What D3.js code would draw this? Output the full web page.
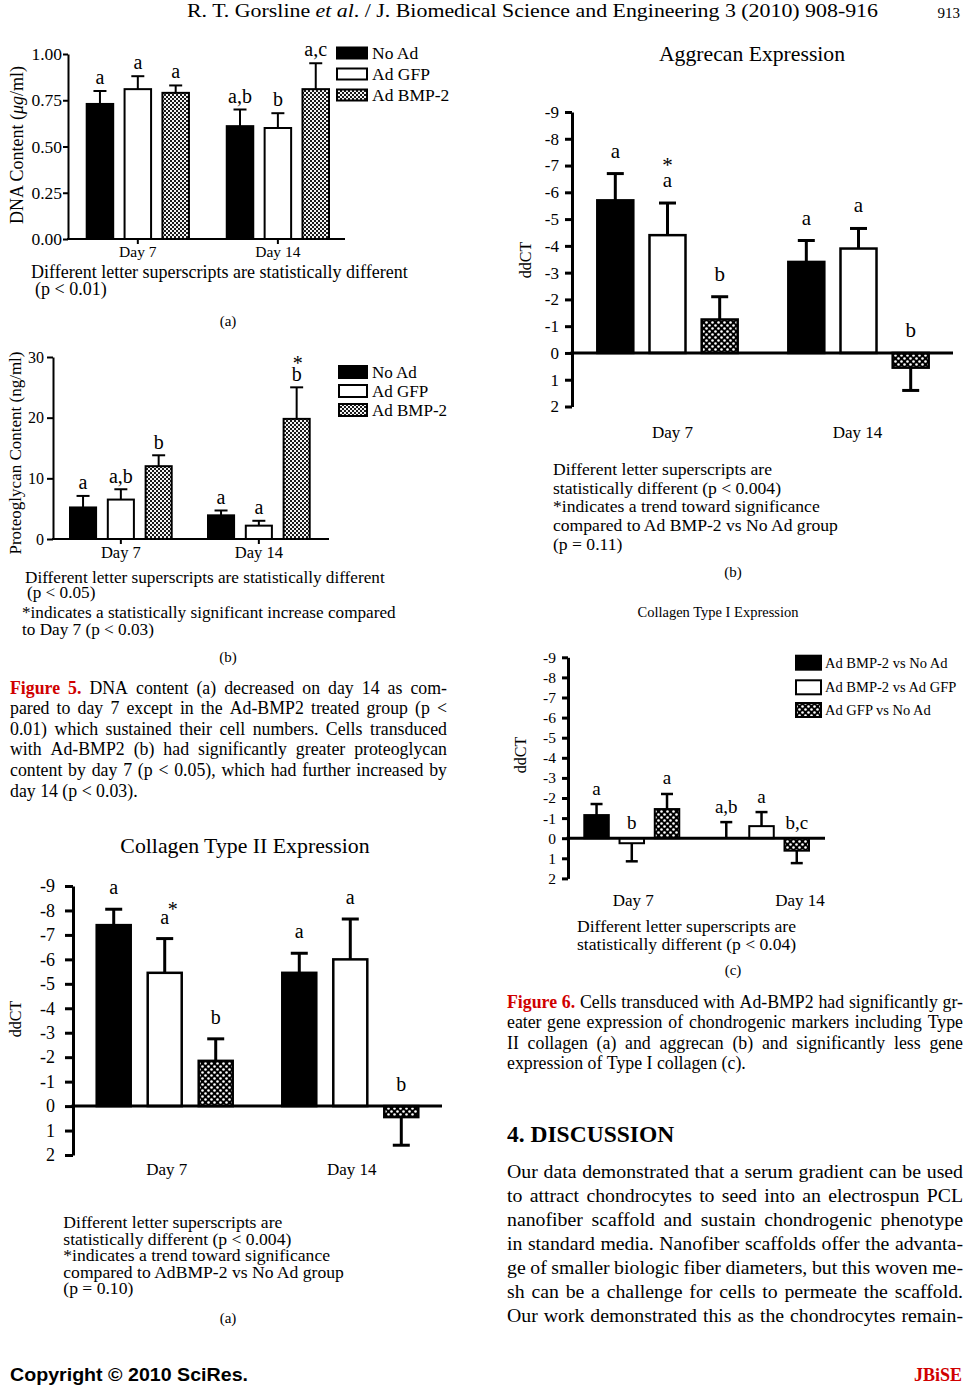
<!DOCTYPE html>
<html><head><meta charset="utf-8">
<script src="https://cdn.jsdelivr.net/npm/d3@7"></script>
<style>body{margin:0;background:#fff}svg{display:block}</style>
</head><body>
<script>
// ================= DATA =================
const days = ["Day 7", "Day 14"];
const treatGroups = ["No Ad", "Ad GFP", "Ad BMP-2"];
const compareGroups = ["Ad BMP-2 vs No Ad", "Ad BMP-2 vs Ad GFP", "Ad GFP vs No Ad"];

// Figure 5(a) DNA content (ug/ml)
const dnaTicks = [0, 0.25, 0.5, 0.75, 1.0];
const dnaMean = [[0.73, 0.81, 0.79], [0.61, 0.60, 0.81]];
const dnaSem = [[0.07, 0.07, 0.04], [0.09, 0.08, 0.14]];
const dnaLetters = [["a", "a", "a"], ["a,b", "b", "a,c"]];

// Figure 5(b) Proteoglycan content (ng/ml)
const pgTicks = [0, 10, 20, 30];
const pgMean = [[5.2, 6.5, 12.0], [3.9, 2.2, 19.8]];
const pgSem = [[1.9, 1.7, 1.8], [0.8, 0.8, 5.2]];
const pgLetters = [["a", "a,b", "b"], ["a", "a", "b"]];
const pgStars = [[0, 0, 0], [0, 0, 1]];

// ddCT axis ticks
const ddctTicks = [-9, -8, -7, -6, -5, -4, -3, -2, -1, 0, 1, 2];

// Figure 6(b) Aggrecan
const aggMean = [[-5.7, -4.4, -1.25], [-3.4, -3.9, 0.55]];
const aggSem = [[1.0, 1.2, 0.85], [0.8, 0.75, 0.85]];
const aggLetters = [["a", "a", "b"], ["a", "a", "b"]];
const aggStars = [[0, 1, 0], [0, 0, 0]];

// Figure 6(c) Collagen type I
const col1Mean = [[-1.15, 0.25, -1.45], [0, -0.6, 0.62]];
const col1Sem = [[0.55, 0.9, 0.75], [0.8, 0.7, 0.62]];
const col1Letters = [["a", "b", "a"], ["a,b", "a", "b,c"]];

// Figure 6(a) Collagen type II
const col2Mean = [[-7.4, -5.45, -1.85], [-5.45, -6.0, 0.45]];
const col2Sem = [[0.65, 1.4, 0.9], [0.8, 1.65, 1.15]];
const col2Letters = [["a", "a", "b"], ["a", "a", "b"]];
const col2Stars = [[0, 1, 0], [0, 0, 0]];

// ================= RENDER =================
const SERIF = '"Liberation Serif","Times New Roman",serif';
const SANS = '"Liberation Sans",Arial,sans-serif';
const svg = d3.select('body').append('svg').attr('width', 965).attr('height', 1386);
svg.append('rect').attr('width', 965).attr('height', 1386).attr('fill', '#fff');

const defs = svg.append('defs');
const pf = defs.append('pattern').attr('id', 'fine').attr('patternUnits', 'userSpaceOnUse').attr('width', 4).attr('height', 4);
pf.append('rect').attr('width', 4).attr('height', 4).attr('fill', '#1a1a1a');
pf.append('rect').attr('x', 0).attr('y', 0).attr('width', 2).attr('height', 2).attr('fill', '#f4f4f4');
pf.append('rect').attr('x', 2).attr('y', 2).attr('width', 2).attr('height', 2).attr('fill', '#f4f4f4');
const pc = defs.append('pattern').attr('id', 'coarse').attr('patternUnits', 'userSpaceOnUse').attr('width', 6).attr('height', 6);
pc.append('rect').attr('width', 6).attr('height', 6).attr('fill', '#000');
pc.append('circle').attr('cx', 1.5).attr('cy', 1.5).attr('r', 1.3).attr('fill', '#fff');
pc.append('circle').attr('cx', 4.5).attr('cy', 4.5).attr('r', 1.3).attr('fill', '#fff');

function T(parent, x, y, s, o = {}) {
  const t = parent.append('text').attr('x', x).attr('y', y)
    .attr('font-family', o.family || SERIF).attr('font-size', o.size || 16)
    .attr('text-anchor', o.anchor || 'start').attr('fill', o.fill || '#000');
  if (o.weight) t.attr('font-weight', o.weight);
  if (o.italic) t.attr('font-style', 'italic');
  t.text(s);
  if (o.width) t.attr('textLength', o.width).attr('lengthAdjust', o.adjust || 'spacingAndGlyphs');
  return t;
}

// word-justified line: words = [{t, bold, fill}]
function justLine(x, y, width, words, size, justify) {
  const text = svg.append('text').attr('y', y).attr('font-family', SERIF).attr('font-size', size);
  const spans = words.map(w => {
    const s = text.append('tspan').text(w.t);
    if (w.bold) s.attr('font-weight', 'bold');
    s.attr('fill', w.fill || '#000');
    return s;
  });
  const widths = spans.map(s => s.node().getComputedTextLength());
  const sum = d3.sum(widths);
  const gap = (justify && words.length > 1) ? (width - sum) / (words.length - 1) : size * 0.25;
  let cx = x;
  spans.forEach((s, i) => { s.attr('x', cx); cx += widths[i] + gap; });
}
function caption(x, y0, lh, width, lines, size) {
  lines.forEach((ln, i) => {
    const words = ln.split(' ').map(t => ({t}));
    if (i === 0) {
      words[0].bold = true; words[0].fill = '#d00000';
      words[1].bold = true; words[1].fill = '#d00000';
    }
    justLine(x, y0 + i * lh, width, words, size, i < lines.length - 1);
  });
}

function drawChart(c) {
  const g = svg.append('g');
  const x0 = d3.scaleBand().domain(days).range(c.xr).paddingInner(c.pOuter).paddingOuter(0);
  const x1 = d3.scaleBand().domain(c.series).range([0, x0.bandwidth()]).paddingInner(c.pInner).paddingOuter(0);
  const y = d3.scaleLinear().domain(c.yd).range(c.yr);
  const base = c.ddct ? 0 : c.yd[0];
  const fills = ['#000', '#fff', `url(#${c.pattern})`];
  const rows = [];
  days.forEach((d, i) => c.series.forEach((s, j) => {
    const v = c.mean[i][j], e = c.sem[i][j];
    const dir = c.ddct ? (v > 0 ? 1 : -1) : 1;
    rows.push({d, s, j, v, tip: v + dir * e, lab: c.letters[i][j],
      star: c.stars ? c.stars[i][j] : 0, x: x0(d) + x1(s), cx: x0(d) + x1(s) + x1.bandwidth() / 2});
  }));

  g.append('g').selectAll('rect').data(rows).join('rect')
    .attr('x', r => r.x).attr('width', x1.bandwidth())
    .attr('y', r => Math.min(y(r.v), y(base)))
    .attr('height', r => Math.abs(y(r.v) - y(base)))
    .attr('fill', r => fills[r.j]).attr('stroke', '#000').attr('stroke-width', c.barStroke);

  const eb = g.append('g').attr('stroke', '#000').attr('stroke-width', c.errW);
  eb.selectAll('line.stem').data(rows).join('line').attr('class', 'stem')
    .attr('x1', r => r.cx).attr('x2', r => r.cx)
    .attr('y1', r => y(r.v)).attr('y2', r => y(r.tip));
  eb.selectAll('line.cap').data(rows).join('line').attr('class', 'cap')
    .attr('x1', r => r.cx - c.capW / 2).attr('x2', r => r.cx + c.capW / 2)
    .attr('y1', r => y(r.tip)).attr('y2', r => y(r.tip));

  // y axis
  const ya = g.append('g').attr('transform', `translate(${c.axisX},0)`)
    .call(d3.axisLeft(y).tickValues(c.ticks).tickFormat(c.fmt)
      .tickSize(c.tickSize).tickSizeOuter(0).tickPadding(c.tickPad));
  ya.attr('font-family', null).attr('font-size', null);
  ya.selectAll('path,line').attr('stroke', '#000').attr('stroke-width', c.axisW);
  ya.selectAll('text').attr('font-family', SERIF).attr('font-size', c.tickFont).attr('fill', '#000');

  // baseline / zero line
  g.append('line').attr('x1', c.axisX - c.axisW / 2).attr('x2', c.xEnd)
    .attr('y1', y(base)).attr('y2', y(base))
    .attr('stroke', '#000').attr('stroke-width', c.axisW);

  if (!c.ddct) {
    const xa = g.append('g').attr('transform', `translate(0,${y(base)})`)
      .call(d3.axisBottom(x0).tickSize(c.xTick).tickSizeOuter(0).tickPadding(c.xPad));
    xa.attr('font-family', null).attr('font-size', null);
    xa.select('.domain').remove();
    xa.selectAll('line').attr('stroke', '#000').attr('stroke-width', c.axisW);
    xa.selectAll('text').attr('font-family', SERIF).attr('font-size', c.dayFont).attr('fill', '#000');
  } else {
    g.append('g').selectAll('text').data(days).join('text')
      .attr('x', (d, i) => x0(d) + x0.bandwidth() / 2 + c.dayDx[i]).attr('y', c.dayY)
      .attr('text-anchor', 'middle').attr('font-family', SERIF).attr('font-size', c.dayFont).text(d => d);
  }

  // significance letters
  const labY = r => Math.min(y(r.v), y(r.tip), y(base)) - c.labOff;
  g.append('g').selectAll('text').data(rows).join('text')
    .attr('x', r => r.cx).attr('y', labY).attr('text-anchor', 'middle')
    .attr('font-family', SERIF).attr('font-size', c.labSize).text(r => r.lab);
  g.append('g').selectAll('text').data(rows.filter(r => r.star)).join('text')
    .attr('x', r => r.cx + c.starDx).attr('y', r => labY(r) - c.starDy).attr('text-anchor', 'middle')
    .attr('font-family', SERIF).attr('font-size', c.labSize).text('*');

  // legend
  if (c.legend) {
    const L = c.legend;
    const lg = g.append('g');
    lg.selectAll('rect').data(c.series).join('rect')
      .attr('x', L.x).attr('y', (d, i) => L.rows[i] - L.h / 2).attr('width', L.w).attr('height', L.h)
      .attr('fill', (d, i) => fills[i]).attr('stroke', '#000').attr('stroke-width', L.sw);
    lg.selectAll('text').data(c.series).join('text')
      .attr('x', L.tx).attr('y', (d, i) => L.rows[i] + L.size * 0.34)
      .attr('font-family', SERIF).attr('font-size', L.size).text(d => d);
  }
  // title
  if (c.title) T(svg, c.title.x, c.title.y, c.title.t, {size: c.title.size, anchor: 'middle'});
  // y label
  const yl = svg.append('text').attr('transform', `translate(${c.ylab.x},${c.ylab.y}) rotate(-90)`)
    .attr('text-anchor', 'middle').attr('font-family', SERIF).attr('font-size', c.ylab.size);
  c.ylab.parts.forEach(p => { const s = yl.append('tspan').text(p.t); if (p.italic) s.attr('font-style', 'italic'); });
  // notes
  c.notes.lines.forEach((ln, i) => T(svg, c.notes.x[i], c.notes.y[i], ln, {size: c.notes.size}));
  T(svg, c.sub.x, c.sub.y, c.sub.t, {size: 15, anchor: 'middle'});
}

const fmtHyphen = d => String(d);

// ---- Figure 5(a)
drawChart({
  series: treatGroups, mean: dnaMean, sem: dnaSem, letters: dnaLetters,
  xr: [86.7, 329], pOuter: 0.27, pInner: 0.30, yd: [0, 1], yr: [239, 54], ddct: false,
  pattern: 'fine', barStroke: 2, errW: 2, capW: 13, axisX: 68, xEnd: 345, axisW: 2,
  ticks: dnaTicks, fmt: d3.format('.2f'), tickSize: 5, tickPad: 1, tickFont: 17.5,
  xTick: 5, xPad: 2, dayFont: 15.5, labSize: 20, labOff: 7, starDx: 0, starDy: 9,
  legend: {x: 337, w: 30, h: 11, sw: 2, rows: [53, 74, 95], tx: 372, size: 17.5},
  ylab: {x: 23, y: 145, size: 18, parts: [{t: 'DNA Content ('}, {t: 'μg', italic: true}, {t: '/ml)'}]},
  notes: {size: 18, x: [31, 35], y: [278, 295], lines: ['Different letter superscripts are statistically different', '(p < 0.01)']},
  sub: {x: 228, y: 326, t: '(a)'}
});

// ---- Figure 5(b)
drawChart({
  series: treatGroups, mean: pgMean, sem: pgSem, letters: pgLetters, stars: pgStars,
  xr: [70, 309.7], pOuter: 0.263, pInner: 0.31, yd: [0, 30], yr: [539, 357], ddct: false,
  pattern: 'fine', barStroke: 2, errW: 2, capW: 13, axisX: 53, xEnd: 329, axisW: 2,
  ticks: pgTicks, fmt: d3.format('d'), tickSize: 6, tickPad: 3, tickFont: 16,
  xTick: 5, xPad: 2, dayFont: 16.5, labSize: 20, labOff: 6.5, starDx: 1, starDy: 11,
  legend: {x: 339, w: 28, h: 12, sw: 2, rows: [372, 391, 410], tx: 372, size: 17},
  ylab: {x: 21, y: 453, size: 17, parts: [{t: 'Proteoglycan Content (ng/ml)'}]},
  notes: {size: 17.2, x: [25, 27, 22, 22], y: [583, 597.5, 618, 635],
    lines: ['Different letter superscripts are statistically different', '(p < 0.05)',
      '*indicates a statistically significant increase compared', 'to Day 7 (p < 0.03)']},
  sub: {x: 228, y: 662, t: '(b)'}
});

// ---- Figure 6(b) Aggrecan
drawChart({
  series: treatGroups, mean: aggMean, sem: aggSem, letters: aggLetters, stars: aggStars,
  xr: [597.3, 928.7], pOuter: 0.265, pInner: 0.31, yd: [-9, 2], yr: [112, 406.5], ddct: true,
  pattern: 'coarse', barStroke: 2.5, errW: 3, capW: 17, axisX: 572, xEnd: 953, axisW: 3,
  ticks: ddctTicks, fmt: fmtHyphen, tickSize: 7, tickPad: 6, tickFont: 17,
  dayFont: 17, dayY: 438, dayDx: [5, -1], labSize: 21, labOff: 16, starDx: 0, starDy: 15,
  title: {x: 752, y: 61, t: 'Aggrecan Expression', size: 21.7},
  ylab: {x: 531, y: 260, size: 16, parts: [{t: 'ddCT'}]},
  notes: {size: 17.6, x: [553, 553, 553, 553, 553], y: [475, 493.5, 512, 531, 549.5],
    lines: ['Different letter superscripts are', 'statistically different  (p < 0.004)',
      '*indicates a trend toward significance', 'compared to Ad BMP-2 vs No Ad group', '(p = 0.11)']},
  sub: {x: 733, y: 577, t: '(b)'}
});

// ---- Figure 6(c) Collagen type I
drawChart({
  series: compareGroups, mean: col1Mean, sem: col1Sem, letters: col1Letters,
  xr: [584.3, 809], pOuter: 0.268, pInner: 0.305, yd: [-9, 2], yr: [657.3, 878.4], ddct: true,
  pattern: 'coarse', barStroke: 2, errW: 2.5, capW: 12, axisX: 568, xEnd: 825, axisW: 3,
  ticks: ddctTicks, fmt: fmtHyphen, tickSize: 6, tickPad: 6, tickFont: 15.5,
  dayFont: 17, dayY: 906, dayDx: [1.5, 38.5], labSize: 19, labOff: 9.5, starDx: 0, starDy: 9,
  legend: {x: 796, w: 25, h: 14, sw: 2, rows: [662.7, 687.3, 710], tx: 825, size: 14.5},
  title: {x: 718, y: 617, t: 'Collagen Type I Expression', size: 14.5},
  ylab: {x: 526, y: 755, size: 16, parts: [{t: 'ddCT'}]},
  notes: {size: 17.6, x: [577, 577], y: [931.7, 950],
    lines: ['Different letter superscripts are', 'statistically different  (p < 0.04)']},
  sub: {x: 733, y: 975, t: '(c)'}
});

// ---- Figure 6(a) Collagen type II
drawChart({
  series: treatGroups, mean: col2Mean, sem: col2Sem, letters: col2Letters, stars: col2Stars,
  xr: [96.7, 418.3], pOuter: 0.267, pInner: 0.333, yd: [-9, 2], yr: [886, 1155], ddct: true,
  pattern: 'coarse', barStroke: 2.5, errW: 3, capW: 17, axisX: 73, xEnd: 442, axisW: 3,
  ticks: ddctTicks, fmt: fmtHyphen, tickSize: 8, tickPad: 10, tickFont: 18,
  dayFont: 17, dayY: 1174.5, dayDx: [2, 1.4], labSize: 20, labOff: 15, starDx: 8, starDy: 8,
  title: {x: 245, y: 852.7, t: 'Collagen Type II Expression', size: 21.8},
  ylab: {x: 21, y: 1019, size: 16, parts: [{t: 'ddCT'}]},
  notes: {size: 17.6, x: [63.3, 63.3, 63.3, 63.3, 63.3], y: [1228.3, 1244.5, 1261, 1278, 1293.5],
    lines: ['Different letter superscripts are', 'statistically different  (p < 0.004)',
      '*indicates a trend toward significance', 'compared to AdBMP-2 vs No Ad group', '(p = 0.10)']},
  sub: {x: 228, y: 1323, t: '(a)'}
});

// ---- page text
const hdr = svg.append('text').attr('x', 187).attr('y', 17).attr('font-family', SERIF).attr('font-size', 19);
hdr.append('tspan').text('R. T. Gorsline ');
hdr.append('tspan').attr('font-style', 'italic').text('et al');
hdr.append('tspan').text('. / J. Biomedical Science and Engineering 3 (2010) 908-916');
hdr.attr('textLength', 691).attr('lengthAdjust', 'spacingAndGlyphs');
T(svg, 960, 18, '913', {size: 15, anchor: 'end'});

caption(10, 693.5, 20.6, 437, [
  'Figure 5. DNA content (a) decreased on day 14 as com-',
  'pared to day 7 except in the Ad-BMP2 treated group (p <',
  '0.01) which sustained their cell numbers. Cells transduced',
  'with Ad-BMP2 (b) had significantly greater proteoglycan',
  'content by day 7 (p < 0.05), which had further increased by',
  'day 14 (p < 0.03).'
], 17.8);

caption(507, 1007.5, 20.5, 456, [
  'Figure 6. Cells transduced with Ad-BMP2 had significantly gr-',
  'eater gene expression of chondrogenic markers including Type',
  'II collagen (a) and aggrecan (b) and significantly less gene',
  'expression of Type I collagen (c).'
], 17.8);

T(svg, 507, 1142, '4. DISCUSSION', {size: 23.5, weight: 'bold'});
[
  'Our data demonstrated that a serum gradient can be used',
  'to attract chondrocytes to seed into an electrospun PCL',
  'nanofiber scaffold and sustain chondrogenic phenotype',
  'in standard media. Nanofiber scaffolds offer the advanta-',
  'ge of smaller biologic fiber diameters, but this woven me-',
  'sh can be a challenge for cells to permeate the scaffold.',
  'Our work demonstrated this as the chondrocytes remain-'
].forEach((ln, i) => justLine(507, 1177.5 + i * 24, 456, ln.split(' ').map(t => ({t})), 19.8, true));

T(svg, 10, 1381, 'Copyright © 2010 SciRes.', {family: SANS, size: 19, weight: 'bold', width: 238});
T(svg, 962, 1381, 'JBiSE', {size: 18, weight: 'bold', anchor: 'end', fill: '#d00000'});
</script>
</body></html>
